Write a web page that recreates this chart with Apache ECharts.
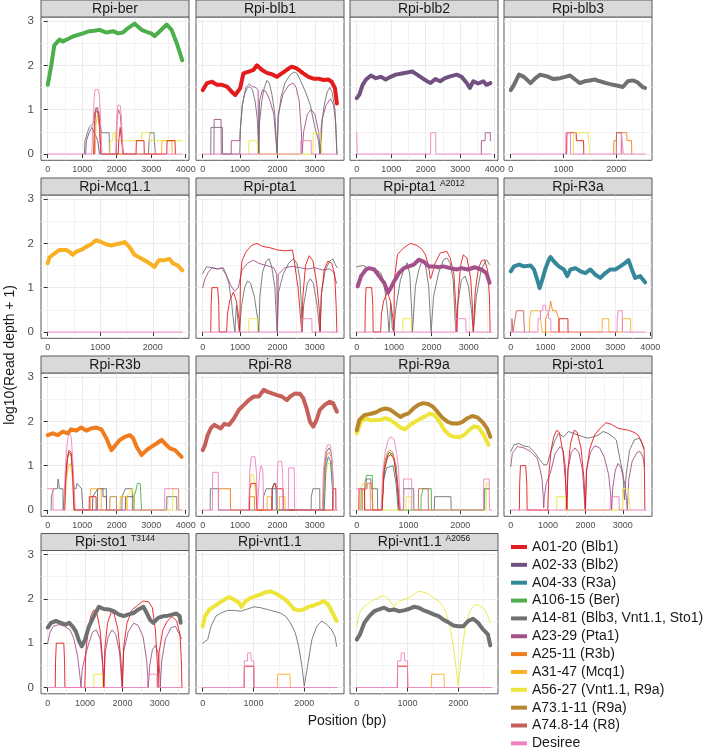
<!DOCTYPE html>
<html><head><meta charset="utf-8">
<script src="https://cdn.jsdelivr.net/npm/echarts@6/dist/echarts.min.js"></script>
<style>html,body{margin:0;padding:0;background:#fff}#c{width:709px;height:748px}</style>
</head><body><div id="c"></div>
<script>
// ---------------- DATA ----------------
const panelTitles = ['Rpi-ber','Rpi-blb1','Rpi-blb2','Rpi-blb3','Rpi-Mcq1.1','Rpi-pta1','Rpi-pta1','Rpi-R3a','Rpi-R3b','Rpi-R8','Rpi-R9a','Rpi-sto1','Rpi-sto1','Rpi-vnt1.1','Rpi-vnt1.1'];
const panelSup = ['','','','','','','A2012','','','','','','T3144','','A2056'];
const panelLength = [3900,3600,3900,2550,2560,3600,3600,3860,3900,3600,2600,3600,3600,2650,2650];
const xTicks4 = [0,1000,2000,3000,4000];
const xTicks3 = [0,1000,2000,3000];
const xTicks2 = [0,1000,2000];
const panelTicks = [xTicks4,xTicks3,xTicks4,xTicks2,xTicks2,xTicks3,xTicks3,xTicks4,xTicks4,xTicks3,xTicks2,xTicks3,xTicks3,xTicks2,xTicks2];
const yTicks = [0,1,2,3];
const accessions = ['A01-20 (Blb1)','A02-33 (Blb2)','A04-33 (R3a)','A106-15 (Ber)','A14-81 (Blb3, Vnt1.1, Sto1)','A23-29 (Pta1)','A25-11 (R3b)','A31-47 (Mcq1)','A56-27 (Vnt1.1, R9a)','A73.1-11 (R9a)','A74.8-14 (R8)','Desiree'];
const accColors = ['#E41A1C','#725181','#35879A','#4DAF4A','#6E7170','#A4508B','#F07C1E','#F9B022','#EDE53A','#B8862E','#C5615A','#F081BF'];

// Rpi-ber
const ber_A106 = [[0,1.56],[100,1.98],[190,2.45],[340,2.58],[440,2.54],[600,2.6],[730,2.65],[1020,2.72],[1210,2.77],[1350,2.78],[1500,2.8],[1700,2.74],[1890,2.77],[2040,2.72],[2180,2.74],[2330,2.84],[2520,2.94],[2720,2.8],[2910,2.74],[3000,2.72],[3100,2.66],[3250,2.77],[3450,2.92],[3590,2.8],[3740,2.5],[3900,2.11]];
const ber_Des = [[0,0],[1280,0],[1300,0.48],[1330,1.0],[1350,1.3],[1370,1.45],[1470,1.45],[1500,1.3],[1520,1.0],[1550,0.48],[1570,0],[1970,0],[1990,0.6],[2010,0.9],[2030,1.1],[2100,1.1],[2130,0.9],[2160,0.48],[2180,0],[3900,0]];
const ber_A14 = [[1060,0],[1080,0.3],[1150,0.48],[1200,0.6],[1330,0.7],[1380,1.0],[1450,1.05],[1500,0.7],[1560,0.48],[1780,0.48],[1790,0],[2920,0],[2940,0.3],[2960,0.48],[3080,0.48],[3090,0.3],[3120,0]];
const ber_A01 = [[1330,0],[1350,0.6],[1380,0.95],[1480,0.95],[1510,0.6],[1540,0],[2040,0],[2060,0.3],[2100,0.6],[2140,0.3],[2200,0],[2560,0],[2570,0.3],[2790,0.3],[2800,0],[3450,0],[3460,0.3],[3690,0.3],[3700,0]];
const ber_A56 = [[1800,0],[1810,0.3],[1880,0.3],[1890,0.48],[1950,0.48],[1960,0.3],[2720,0.3],[2730,0.48],[2950,0.48],[2960,0.3],[3900,0.3]];
const ber_A02 = [[1100,0],[1120,0.3],[1200,0.48],[1280,0.6],[1350,0.48],[1450,0.3],[1500,0]];
const ber_A31 = [[1380,0],[1400,0.7],[1450,0.9],[1500,0.6],[1550,0],[3300,0],[3310,0.3],[3600,0.3],[3610,0]];
const ber_A74 = [[1350,0],[1370,0.78],[1400,1.05],[1460,0.9],[1500,0.6],[1540,0],[1990,0],[2010,0.78],[2050,1.0],[2100,0.9],[2140,0.48],[2170,0]];

// Rpi-blb1
const blb1_A01 = [[0,1.44],[115,1.6],[250,1.63],[380,1.56],[515,1.56],[650,1.52],[780,1.4],[870,1.33],[1000,1.48],[1090,1.82],[1230,1.86],[1360,1.9],[1450,2.0],[1580,1.9],[1715,1.83],[1850,1.8],[1980,1.74],[2115,1.82],[2250,1.9],[2380,1.97],[2515,1.93],[2690,1.82],[2830,1.74],[2960,1.7],[3100,1.7],[3230,1.67],[3360,1.68],[3450,1.63],[3540,1.48],[3590,1.14]];
const blb1_A14 = [[215,0],[220,0.6],[525,0.6],[530,0],[990,0],[1010,0.6],[1060,1.1],[1120,1.35],[1200,1.5],[1260,1.52],[1330,1.45],[1400,1.2],[1460,0.8],[1500,0],[1520,0.7],[1580,1.2],[1650,1.5],[1720,1.66],[1780,1.6],[1850,1.35],[1930,0.9],[1990,0],[2020,0.8],[2100,1.3],[2200,1.6],[2330,1.78],[2450,1.85],[2520,1.82],[2620,1.65],[2750,1.4],[2880,1.1],[3000,0.6],[3100,0.3],[3130,0],[3170,0.6],[3250,1.1],[3330,1.4],[3400,1.5],[3460,1.4],[3540,1.0],[3590,0]];
const blb1_A23 = [[300,0],[305,0.78],[490,0.78],[495,0],[760,0],[765,0.3],[990,0.3],[1000,0.5],[1060,1.1],[1150,1.5],[1250,1.58],[1330,1.52],[1420,1.5],[1480,1.45],[1500,0],[1520,1.2],[1600,1.45],[1700,1.4],[1800,1.2],[1900,0.9],[1990,0],[2020,0.9],[2150,1.35],[2300,1.55],[2420,1.6],[2500,1.5],[2580,1.2],[2640,0.5],[2660,0],[2700,0.5],[2800,0.9],[2900,1.0],[3000,0.9],[3100,0.5],[3150,0],[3200,0.8],[3300,1.1],[3420,1.25],[3500,1.1],[3560,0.7],[3590,0]];
const blb1_A56 = [[1230,0],[1235,0.3],[1460,0.3],[1465,0],[2950,0],[2955,0.48],[3150,0.48],[3155,0.3],[3200,0.3],[3205,0]];
const blb1_Des = [[0,0],[2620,0],[2625,0.3],[2900,0.3],[2905,0],[3600,0]];

// Rpi-blb2
const blb2_A02 = [[0,1.26],[77,1.34],[170,1.56],[270,1.68],[410,1.77],[555,1.71],[700,1.74],[840,1.68],[985,1.74],[1130,1.79],[1270,1.81],[1465,1.84],[1610,1.86],[1750,1.79],[1900,1.71],[2040,1.64],[2140,1.6],[2280,1.69],[2420,1.64],[2560,1.71],[2710,1.75],[2900,1.79],[3040,1.74],[3190,1.6],[3280,1.49],[3380,1.64],[3520,1.59],[3670,1.64],[3760,1.56],[3875,1.6]];
const blb2_Des = [[0,0.48],[10,0.48],[15,0],[2140,0],[2145,0.48],[2290,0.48],[2295,0],[3900,0]];
const blb2_A23 = [[3610,0],[3615,0.3],[3720,0.3],[3725,0.48],[3870,0.48],[3875,0.3]];

// Rpi-blb3
const blb3_A14 = [[0,1.44],[62,1.56],[156,1.79],[250,1.74],[375,1.6],[470,1.71],[560,1.79],[690,1.75],[810,1.69],[940,1.71],[1030,1.74],[1125,1.77],[1220,1.68],[1310,1.6],[1400,1.64],[1500,1.66],[1590,1.68],[1690,1.64],[1810,1.6],[1940,1.56],[2030,1.54],[2125,1.51],[2220,1.64],[2310,1.66],[2400,1.62],[2500,1.51],[2545,1.49]];
const blb3_Des = [[0,0],[1040,0],[1045,0.48],[1130,0.48],[1135,0],[2090,0],[2095,0.48],[2130,0.48],[2135,0],[2550,0]];
const blb3_A01 = [[1060,0],[1065,0.48],[1240,0.48],[1245,0.3],[1380,0.3],[1385,0]];
const blb3_A56 = [[1190,0],[1195,0.48],[1470,0.48],[1475,0.3],[1500,0.3],[1505,0]];
const blb3_A25 = [[1950,0],[1955,0.3],[2000,0.3],[2005,0.48],[2200,0.48],[2205,0.3],[2290,0.3],[2295,0]];
const blb3_A74 = [[2000,0],[2005,0.48],[2100,0.48],[2105,0]];

// Rpi-Mcq1.1
const mcq_A31 = [[0,1.55],[32,1.68],[127,1.77],[222,1.85],[350,1.85],[413,1.81],[476,1.74],[540,1.81],[635,1.85],[730,1.92],[825,1.98],[920,2.07],[1016,2.03],[1111,1.98],[1206,1.95],[1302,1.98],[1397,2.0],[1460,2.03],[1555,1.92],[1651,1.74],[1746,1.68],[1841,1.62],[1937,1.55],[2032,1.47],[2114,1.62],[2222,1.62],[2317,1.65],[2381,1.55],[2476,1.5],[2560,1.39]];
const mcq_Des = [[0,0],[2560,0]];

// Rpi-pta1
const pta1_A01 = [[215,0],[225,0.6],[245,1.0],[400,1.0],[430,0.6],[440,0],[640,0],[660,0.4],[720,0.7],[820,0.9],[900,0.7],[970,0.3],[990,0],[1010,1.2],[1050,1.6],[1150,1.8],[1300,1.95],[1450,2.0],[1600,1.93],[1800,1.9],[2000,1.85],[2200,1.83],[2400,1.85],[2450,1.6],[2550,1.0],[2620,0.3],[2650,0],[2680,0.8],[2750,1.5],[2850,1.72],[2950,1.6],[3050,1.1],[3120,0.5],[3140,0],[3170,0.8],[3250,1.4],[3350,1.6],[3450,1.55],[3530,1.3],[3570,0.6],[3590,0]];
const pta1_A14 = [[0,1.32],[100,1.47],[250,1.45],[400,1.42],[500,1.45],[620,1.3],[700,1.1],[780,0.6],[830,0.2],[860,0],[900,0.6],[950,0.2],[980,0],[1040,0.6],[1120,1.0],[1200,1.15],[1280,1.1],[1380,0.8],[1470,0.3],[1500,0],[1530,0.8],[1600,1.35],[1700,1.6],[1780,1.65],[1850,1.45],[1930,1.0],[1990,0],[2030,0.9],[2150,1.3],[2300,1.55],[2430,1.65],[2520,1.55],[2600,1.2],[2640,0.6],[2660,0],[2700,0.6],[2800,1.1],[2880,1.2],[2960,1.1],[3060,0.6],[3120,0.1],[3140,0],[3180,0.9],[3280,1.4],[3400,1.6],[3480,1.65],[3560,1.5],[3600,1.45]];
const pta1_A23 = [[0,1.0],[60,1.2],[150,1.35],[250,1.45],[400,1.42],[550,1.45],[650,1.25],[750,1.05],[850,0.92],[950,1.0],[1050,1.4],[1200,1.55],[1350,1.62],[1500,1.55],[1700,1.5],[1900,1.45],[1980,1.3],[2000,0],[2020,1.3],[2200,1.45],[2400,1.48],[2600,1.45],[2800,1.42],[3000,1.45],[3200,1.4],[3400,1.42],[3500,1.35],[3580,1.1]];
const pta1_A56 = [[1230,0],[1235,0.3],[1460,0.3],[1465,0]];
const pta1_Des = [[0,0],[2650,0],[2655,0.3],[2920,0.3],[2925,0],[3600,0]];

// Rpi-pta1 A2012
const pta1a_A23 = [[26,1.03],[115,1.26],[247,1.41],[335,1.44],[468,1.41],[600,1.26],[732,1.11],[838,0.89],[909,0.99],[1000,1.14],[1130,1.33],[1262,1.44],[1394,1.48],[1527,1.52],[1660,1.63],[1790,1.59],[1925,1.48],[2056,1.48],[2190,1.46],[2320,1.48],[2500,1.44],[2675,1.41],[2800,1.44],[2980,1.41],[3160,1.46],[3335,1.41],[3470,1.33],[3555,1.11]];
const pta1a_A01 = [[220,0],[230,0.6],[250,1.0],[400,1.0],[430,0.6],[440,0],[640,0],[660,0.4],[720,0.7],[820,0.9],[900,0.7],[970,0.3],[990,0],[1010,1.2],[1090,1.75],[1260,1.9],[1440,2.0],[1620,1.95],[1750,1.86],[1840,1.74],[1920,1.5],[1970,1.2],[2000,1.25],[2100,1.56],[2235,1.78],[2410,1.82],[2500,1.67],[2600,1.3],[2650,0.6],[2680,0],[2720,0.9],[2780,1.5],[2850,1.74],[2950,1.67],[3050,1.2],[3100,0.5],[3120,0],[3170,0.9],[3250,1.4],[3330,1.6],[3420,1.63],[3500,1.4],[3550,0.8],[3570,0]];
const pta1a_A14 = [[0,1.47],[150,1.5],[340,1.44],[520,1.41],[645,1.33],[730,1.1],[820,0.5],[865,0],[910,0.65],[950,0.1],[990,0],[1040,0.5],[1170,1.18],[1260,1.4],[1350,1.56],[1420,1.3],[1470,0.5],[1490,0],[1570,1.03],[1660,1.4],[1750,1.6],[1840,1.5],[1925,1.03],[1990,0],[2056,0.8],[2190,1.33],[2320,1.63],[2410,1.67],[2500,1.56],[2580,1.18],[2650,0],[2700,0.6],[2800,1.18],[2900,1.26],[2990,1.03],[3070,0.5],[3120,0],[3200,0.8],[3330,1.4],[3470,1.63],[3560,1.52]];
const pta1a_A56 = [[1230,0],[1235,0.3],[1460,0.3],[1465,0]];
const pta1a_Des = [[0,0],[2650,0],[2655,0.3],[2920,0.3],[2925,0],[3600,0]];

// Rpi-R3a
const r3a_A04 = [[0,1.37],[95,1.48],[240,1.52],[380,1.48],[570,1.5],[667,1.41],[760,1.18],[830,0.99],[905,1.18],[1000,1.44],[1095,1.63],[1140,1.69],[1240,1.59],[1380,1.48],[1524,1.41],[1620,1.26],[1714,1.41],[1857,1.44],[2000,1.37],[2143,1.33],[2285,1.41],[2430,1.29],[2570,1.22],[2715,1.33],[2857,1.41],[3000,1.41],[3143,1.48],[3285,1.56],[3380,1.62],[3476,1.41],[3570,1.22],[3715,1.26],[3857,1.12]];
const r3a_A74 = [[30,0],[35,0.3],[60,0.3],[65,0],[120,0],[125,0.3],[160,0.3],[165,0.48],[370,0.48],[375,0.3],[390,0.3],[395,0]];
const r3a_A31 = [[540,0],[545,0.3],[580,0.3],[585,0.48],[850,0.48],[855,0.3],[900,0.3],[905,0],[2620,0],[2625,0.3],[2810,0.3],[2815,0],[3200,0],[3205,0.3],[3440,0.3],[3445,0]];
const r3a_Des = [[0,0],[780,0],[785,0.3],[850,0.3],[855,0.48],[920,0.48],[925,0.6],[1000,0.6],[1005,0.48],[1080,0.48],[1085,0.3],[1150,0.3],[1155,0],[3050,0],[3055,0.3],[3080,0.3],[3085,0.48],[3200,0.48],[3205,0],[3860,0]];
const r3a_A25 = [[1000,0],[1005,0.3],[1100,0.48],[1130,0.6],[1140,0.7],[1170,0.6],[1200,0.48],[1300,0.48],[1380,0.3],[1400,0]];
const r3a_A01 = [[1380,0],[1385,0.3],[1640,0.3],[1645,0]];

// Rpi-R3b
const r3b_A25 = [[0,1.69],[146,1.73],[290,1.69],[437,1.77],[583,1.73],[680,1.82],[825,1.79],[970,1.86],[1117,1.79],[1262,1.84],[1408,1.86],[1553,1.82],[1700,1.62],[1845,1.35],[1942,1.44],[2088,1.58],[2233,1.65],[2380,1.69],[2476,1.62],[2573,1.43],[2718,1.24],[2864,1.35],[3010,1.43],[3155,1.5],[3300,1.58],[3398,1.5],[3544,1.39],[3690,1.35],[3880,1.2]];
const r3b_Des = [[0,0.48],[150,0.48],[155,0],[480,0],[500,0.8],[540,1.3],[580,1.6],[620,1.72],[680,1.65],[720,1.2],[760,0.6],[800,0],[3390,0],[3395,0.48],[3790,0.48],[3795,0],[3900,0]];
const r3b_A14 = [[100,0],[105,0.3],[160,0.3],[165,0.48],[280,0.48],[300,0.7],[340,0.48],[440,0.48],[445,0],[480,0],[520,0.7],[570,1.15],[620,1.3],[680,1.25],[720,0.9],[760,0.48],[820,0.48],[850,0.6],[980,0.48],[1020,0],[1440,0],[1445,0.48],[1700,0.48],[1705,0],[2150,0],[2155,0.3],[2250,0.48],[2450,0.48],[2455,0],[3450,0],[3455,0.3],[3740,0.3],[3745,0]];
const r3b_A01 = [[480,0],[520,0.7],[570,1.2],[620,1.35],[680,1.3],[720,0.9],[760,0],[1200,0],[1205,0.3],[1400,0.3],[1405,0]];
const r3b_A31 = [[500,0],[540,0.7],[600,1.0],[660,1.05],[720,0.7],[760,0],[1240,0],[1245,0.48],[1550,0.48],[1555,0],[2100,0],[2105,0.3],[2300,0.3],[2305,0]];
const r3b_A02 = [[1300,0],[1305,0.3],[1450,0.48],[1600,0.48],[1605,0.3],[1700,0.3],[1705,0],[2250,0],[2255,0.3],[2500,0.3],[2505,0]];
const r3b_A106 = [[2500,0],[2505,0.3],[2570,0.48],[2600,0.6],[2680,0.6],[2700,0.3],[2720,0]];
const r3b_A56 = [[2280,0],[2285,0.3],[2450,0.48],[2500,0.3],[2505,0],[3620,0],[3625,0.48],[3800,0.48],[3805,0]];
const r3b_A73 = [[490,0],[530,0.8],[580,1.2],[630,1.3],[690,1.2],[740,0.6],[780,0],[1800,0],[1805,0.3],[1990,0.3],[1995,0]];

// Rpi-R8
const r8_A74 = [[0,1.35],[62,1.47],[132,1.69],[220,1.85],[310,1.92],[397,1.88],[485,1.84],[574,1.94],[706,1.92],[838,2.07],[970,2.26],[1103,2.37],[1235,2.48],[1368,2.56],[1500,2.56],[1633,2.71],[1721,2.67],[1853,2.63],[1986,2.59],[2118,2.56],[2250,2.48],[2340,2.56],[2470,2.63],[2604,2.62],[2690,2.52],[2780,2.29],[2870,1.99],[2957,1.88],[3045,2.03],[3133,2.26],[3265,2.37],[3398,2.44],[3486,2.41],[3590,2.22]];
const r8_Des = [[0,0],[260,0],[265,0.85],[415,0.85],[420,0],[1230,0],[1260,0.9],[1300,1.2],[1400,1.2],[1440,0.8],[1460,0],[1500,0],[1520,0.8],[1560,1.0],[1610,0.9],[1630,0],[1990,0],[2000,0.9],[2020,1.1],[2110,1.1],[2140,0.8],[2150,0],[2290,0],[2300,0.95],[2450,0.95],[2460,0],[3200,0],[3230,0.9],[3290,1.35],[3350,1.48],[3420,1.45],[3470,1.0],[3500,0],[3600,0]];
const r8_A14 = [[200,0],[205,0.48],[420,0.48],[425,0],[1620,0],[1625,0.3],[1700,0.48],[1990,0.48],[1995,0],[2900,0],[2905,0.3],[2950,0.48],[3130,0.48],[3135,0],[3220,0],[3250,0.9],[3310,1.3],[3380,1.4],[3440,1.3],[3480,0.8],[3500,0]];
const r8_A25 = [[420,0],[425,0.48],[740,0.48],[745,0],[1250,0],[1255,0.3],[1380,0.3],[1385,0],[3230,0],[3260,0.8],[3320,1.25],[3380,1.3],[3440,1.2],[3480,0.7],[3500,0]];
const r8_A01 = [[1250,0],[1255,0.48],[1300,0.6],[1420,0.6],[1430,0.48],[1450,0],[1850,0],[1855,0.48],[1920,0.6],[1980,0.48],[2150,0.48],[2155,0],[3480,0],[3485,0.48],[3560,0.48],[3565,0]];
const r8_A56 = [[1260,0],[1265,0.48],[1300,0.8],[1360,0.8],[1400,0.48],[1460,0],[3250,0],[3290,0.8],[3350,1.05],[3420,1.05],[3470,0.6],[3490,0]];
const r8_A04 = [[1860,0],[1865,0.48],[1900,0.6],[1960,0.6],[1970,0],[3250,0],[3300,1.0],[3360,1.2],[3420,1.1],[3470,0.5],[3490,0]];
const r8_A31 = [[1720,0],[1725,0.3],[1840,0.3],[1845,0],[2050,0],[2055,0.3],[2200,0.3],[2205,0]];

// Rpi-R9a
const r9a_A73 = [[0,1.8],[50,2.03],[145,2.14],[272,2.17],[367,2.2],[462,2.26],[557,2.29],[652,2.26],[747,2.18],[842,2.1],[905,2.14],[1000,2.18],[1095,2.29],[1190,2.37],[1285,2.41],[1380,2.39],[1475,2.33],[1570,2.2],[1665,2.07],[1760,1.99],[1855,1.95],[1950,1.95],[2044,1.99],[2140,2.07],[2234,2.12],[2330,2.09],[2424,1.99],[2520,1.84],[2582,1.65]];
const r9a_A56 = [[0,1.73],[82,1.99],[177,2.07],[272,2.02],[367,2.03],[462,2.03],[557,2.07],[652,2.03],[747,1.95],[842,1.86],[937,1.82],[1032,1.92],[1127,1.99],[1222,2.05],[1316,2.11],[1411,2.17],[1506,2.14],[1600,1.99],[1696,1.8],[1790,1.69],[1886,1.65],[1980,1.64],[2075,1.69],[2170,1.8],[2265,1.89],[2360,1.86],[2455,1.69],[2550,1.47]];
const r9a_Des = [[0,0.48],[170,0.48],[175,0.6],[260,0.6],[265,0],[470,0],[500,0.8],[550,1.3],[600,1.55],[650,1.65],[720,1.6],[770,1.3],[810,0.9],[840,0],[900,0],[905,0.7],[1060,0.7],[1065,0],[2450,0],[2455,0.7],[2560,0.7],[2565,0],[2600,0]];
const r9a_A14 = [[80,0],[85,0.48],[180,0.48],[185,0.7],[270,0.7],[280,0.48],[400,0.48],[405,0],[480,0],[520,0.7],[570,1.15],[630,1.3],[700,1.25],[760,1.0],[800,0.5],[840,0],[905,0],[910,0.48],[1100,0.48],[1105,0],[1500,0],[1505,0.3],[1820,0.3],[1825,0],[2460,0],[2465,0.48],[2560,0.48]];
const r9a_A106 = [[150,0],[155,0.6],[190,0.78],[300,0.78],[310,0],[490,0],[540,1.1],[620,1.3],[700,1.25],[760,0.9],[820,0],[1240,0],[1245,0.3],[1280,0.48],[1440,0.48],[1445,0],[2470,0],[2475,0.48],[2560,0.48]];
const r9a_A04 = [[480,0],[520,0.7],[580,0.95],[700,1.0],[760,0.6],[800,0]];
const r9a_A01 = [[40,0],[45,0.48],[150,0.48],[155,0],[490,0],[530,0.9],[600,1.2],[660,1.25],[720,1.15],[780,0.6],[820,0]];
const r9a_A25 = [[110,0],[115,0.48],[200,0.48],[205,0.6],[300,0.6],[305,0],[480,0],[520,0.9],[590,1.3],[640,1.35],[700,1.3],[770,0.8],[820,0]];
const r9a_A56s = [[60,0],[65,0.48],[120,0.6],[250,0.6],[255,0.48],[330,0],[950,0],[955,0.3],[1050,0.3],[1055,0],[2500,0],[2505,0.6],[2560,0.6]];
const r9a_A74 = [[1190,0],[1195,0.48],[1380,0.48],[1385,0]];

// Rpi-sto1
const sto1_A14 = [[0,1.32],[88,1.47],[220,1.5],[353,1.44],[485,1.43],[618,1.32],[750,1.17],[883,1.02],[970,1.02],[1060,1.28],[1190,1.58],[1280,1.73],[1410,1.65],[1545,1.77],[1677,1.73],[1810,1.69],[1940,1.65],[2075,1.62],[2205,1.65],[2340,1.69],[2470,1.77],[2600,1.73],[2735,1.65],[2825,1.58],[2910,1.2],[3000,0.83],[3045,0.23],[3090,0.8],[3180,1.35],[3310,1.58],[3440,1.62],[3530,1.47],[3575,1.39]];
const sto1_A01 = [[230,0],[240,0.6],[260,1.0],[400,1.0],[430,0.6],[440,0],[990,0],[1020,0.8],[1080,1.35],[1150,1.65],[1230,1.8],[1300,1.75],[1400,1.3],[1470,0.6],[1500,0],[1530,0.9],[1600,1.5],[1700,1.8],[1780,1.75],[1880,1.4],[1960,0.7],[2000,0],[2030,0.9],[2120,1.4],[2250,1.7],[2400,1.85],[2550,1.97],[2700,1.93],[2850,1.85],[3000,1.82],[3150,1.8],[3300,1.75],[3400,1.7],[3500,1.55],[3570,1.35],[3590,0]];
const sto1_A23 = [[0,0.98],[44,1.28],[177,1.43],[353,1.4],[530,1.32],[706,1.17],[790,0.9],[840,0.68],[870,0.3],[883,0.05],[900,0.3],[950,0.6],[1000,0.6],[1060,0.83],[1190,1.28],[1325,1.43],[1400,1.35],[1460,1.0],[1500,0],[1530,0.9],[1620,1.3],[1720,1.4],[1820,1.3],[1920,0.9],[1990,0],[2030,0.9],[2130,1.3],[2250,1.45],[2380,1.4],[2500,1.2],[2620,0.8],[2680,0.3],[2700,0],[2730,0.5],[2800,0.9],[2870,1.05],[2950,0.95],[3050,0.6],[3100,0.2],[3120,0],[3160,0.7],[3250,1.1],[3380,1.3],[3460,1.32],[3540,1.2],[3580,0.95]];
const sto1_A56 = [[1230,0],[1235,0.3],[1460,0.3],[1465,0],[2990,0],[2995,0.48],[3150,0.48],[3155,0.3],[3200,0.3],[3205,0]];
const sto1_Des = [[0,0],[2660,0],[2665,0.3],[2900,0.3],[2905,0],[3600,0]];

// Rpi-sto1 T3144
const sto1t_A14 = [[0,1.35],[88,1.46],[220,1.5],[353,1.46],[485,1.42],[574,1.46],[662,1.38],[750,1.27],[838,1.05],[910,0.93],[1000,1.08],[1103,1.38],[1235,1.61],[1368,1.82],[1500,1.77],[1633,1.76],[1765,1.72],[1898,1.65],[2030,1.61],[2162,1.65],[2295,1.68],[2427,1.76],[2560,1.82],[2650,1.68],[2736,1.53],[2825,1.46],[2956,1.57],[3090,1.61],[3220,1.62],[3354,1.65],[3440,1.67],[3530,1.61],[3557,1.46]];
const sto1t_A01 = [[200,0],[210,0.6],[230,1.0],[430,1.0],[450,0.6],[460,0],[990,0],[1020,0.8],[1080,1.3],[1150,1.6],[1230,1.75],[1320,1.65],[1400,1.3],[1470,0.6],[1500,0],[1530,0.9],[1600,1.45],[1700,1.7],[1780,1.65],[1880,1.3],[1960,0.6],[2000,0],[2030,0.9],[2120,1.45],[2250,1.75],[2400,1.85],[2550,1.95],[2700,1.93],[2800,1.8],[2880,1.3],[2930,0.6],[2950,0],[2980,0.8],[3080,1.3],[3200,1.5],[3330,1.6],[3450,1.5],[3540,1.2],[3580,0.5],[3590,0]];
const sto1t_A23 = [[0,1.0],[60,1.25],[150,1.38],[300,1.42],[450,1.38],[600,1.3],[700,1.1],[800,0.7],[870,0.2],[890,0],[920,0.4],[1000,0.7],[1100,1.0],[1200,1.25],[1300,1.3],[1400,1.1],[1470,0.5],[1500,0],[1540,0.8],[1620,1.15],[1720,1.3],[1820,1.2],[1920,0.8],[1990,0],[2030,0.8],[2150,1.25],[2300,1.45],[2420,1.4],[2550,1.15],[2650,0.6],[2690,0],[2730,0.5],[2800,0.85],[2880,0.95],[2950,0.8],[3000,0.3],[3010,0],[3050,0.6],[3150,1.1],[3300,1.35],[3420,1.38],[3520,1.2],[3580,1.1]];
const sto1t_A56 = [[1230,0],[1235,0.3],[1460,0.3],[1465,0]];
const sto1t_Des = [[0,0],[2670,0],[2675,0.3],[2920,0.3],[2925,0],[3600,0]];

// Rpi-vnt1.1
const vnt_A56 = [[0,1.38],[46,1.61],[130,1.76],[228,1.83],[326,1.91],[423,1.98],[521,2.04],[619,1.98],[717,1.91],[762,1.82],[847,1.95],[945,2.02],[1042,2.06],[1140,2.1],[1238,2.15],[1335,2.17],[1433,2.12],[1531,2.06],[1629,1.98],[1726,1.87],[1792,1.77],[1889,1.74],[1987,1.76],[2085,1.82],[2182,1.85],[2280,1.89],[2378,1.95],[2475,1.87],[2540,1.72],[2638,1.5]];
const vnt_A14 = [[0,1.0],[98,1.08],[163,1.38],[260,1.61],[358,1.68],[489,1.74],[619,1.74],[750,1.72],[880,1.77],[1010,1.82],[1140,1.8],[1270,1.76],[1400,1.72],[1531,1.68],[1629,1.61],[1726,1.46],[1824,1.23],[1889,0.93],[1954,0.48],[2000,0.03],[2052,0.4],[2150,1.08],[2247,1.38],[2345,1.5],[2443,1.42],[2540,1.3],[2606,1.15],[2638,0.93]];
const vnt_Des = [[0,0],[815,0],[820,0.6],[880,0.6],[885,0.78],[950,0.78],[955,0.6],[1005,0.6],[1010,0],[2650,0]];
const vnt_A01 = [[815,0],[820,0.48],[1005,0.48],[1010,0]];
const vnt_A31 = [[1470,0],[1475,0.3],[1720,0.3],[1725,0]];

// Rpi-vnt1.1 A2056
const vnta_A14 = [[0,1.08],[65,1.2],[150,1.46],[247,1.61],[344,1.72],[440,1.76],[540,1.8],[636,1.74],[733,1.76],[830,1.72],[928,1.74],[1026,1.77],[1124,1.82],[1220,1.8],[1318,1.74],[1416,1.7],[1513,1.65],[1610,1.61],[1708,1.53],[1805,1.47],[1902,1.4],[2000,1.38],[2097,1.38],[2195,1.5],[2292,1.55],[2390,1.46],[2487,1.31],[2584,1.2],[2630,0.95]];
const vnta_A56 = [[0,1.38],[52,1.68],[150,1.83],[247,1.91],[344,1.98],[440,2.04],[540,2.07],[636,1.98],[733,1.83],[830,1.95],[928,1.98],[1026,2.02],[1124,2.1],[1220,2.17],[1318,2.15],[1416,2.1],[1513,2.02],[1610,1.95],[1708,1.82],[1773,1.65],[1838,1.38],[1902,0.93],[1954,0.48],[2000,0.03],[2045,0.55],[2130,1.31],[2227,1.72],[2325,1.87],[2422,1.85],[2520,1.76],[2584,1.61],[2630,1.46]];
const vnta_Des = [[0,0],[800,0],[805,0.6],[870,0.6],[875,0.78],[940,0.78],[945,0.6],[1000,0.6],[1005,0],[2650,0]];
const vnta_A01 = [[800,0],[805,0.48],[1000,0.48],[1005,0]];
const vnta_A31 = [[1470,0],[1475,0.3],[1720,0.3],[1725,0]];

// [accession index, data, thick]
const panelLines = [
 [[1,ber_A02,0],[4,ber_A14,0],[7,ber_A31,0],[8,ber_A56,0],[0,ber_A01,0],[10,ber_A74,0],[11,ber_Des,0],[3,ber_A106,1]],
 [[5,blb1_A23,0],[4,blb1_A14,0],[8,blb1_A56,0],[11,blb1_Des,0],[0,blb1_A01,1]],
 [[5,blb2_A23,0],[11,blb2_Des,0],[1,blb2_A02,1]],
 [[0,blb3_A01,0],[8,blb3_A56,0],[6,blb3_A25,0],[10,blb3_A74,0],[11,blb3_Des,0],[4,blb3_A14,1]],
 [[11,mcq_Des,0],[7,mcq_A31,1]],
 [[4,pta1_A14,0],[5,pta1_A23,0],[0,pta1_A01,0],[8,pta1_A56,0],[11,pta1_Des,0]],
 [[4,pta1a_A14,0],[0,pta1a_A01,0],[8,pta1a_A56,0],[11,pta1a_Des,0],[5,pta1a_A23,1]],
 [[10,r3a_A74,0],[7,r3a_A31,0],[6,r3a_A25,0],[0,r3a_A01,0],[11,r3a_Des,0],[2,r3a_A04,1]],
 [[4,r3b_A14,0],[1,r3b_A02,0],[7,r3b_A31,0],[9,r3b_A73,0],[0,r3b_A01,0],[3,r3b_A106,0],[8,r3b_A56,0],[11,r3b_Des,0],[6,r3b_A25,1]],
 [[4,r8_A14,0],[6,r8_A25,0],[7,r8_A31,0],[8,r8_A56,0],[2,r8_A04,0],[0,r8_A01,0],[11,r8_Des,0],[10,r8_A74,1]],
 [[4,r9a_A14,0],[3,r9a_A106,0],[2,r9a_A04,0],[8,r9a_A56s,0],[6,r9a_A25,0],[0,r9a_A01,0],[10,r9a_A74,0],[11,r9a_Des,0],[8,r9a_A56,1],[9,r9a_A73,1]],
 [[4,sto1_A14,0],[5,sto1_A23,0],[0,sto1_A01,0],[8,sto1_A56,0],[11,sto1_Des,0]],
 [[5,sto1t_A23,0],[0,sto1t_A01,0],[8,sto1t_A56,0],[11,sto1t_Des,0],[4,sto1t_A14,1]],
 [[4,vnt_A14,0],[0,vnt_A01,0],[7,vnt_A31,0],[11,vnt_Des,0],[8,vnt_A56,1]],
 [[8,vnta_A56,0],[0,vnta_A01,0],[7,vnta_A31,0],[11,vnta_Des,0],[4,vnta_A14,1]]
];

// ---------------- LAYOUT ----------------
const FONT = '"Liberation Sans", Arial, Helvetica, sans-serif';
const colLeft = [41, 196, 350, 504];
const plotTop = [17, 195, 373, 550.5];
const plotW = 148, plotH = 143.3, stripH = 17;

const chart = echarts.init(document.getElementById('c'), null, {renderer:'canvas', width:709, height:748});
const grids = [], xAxes = [], yAxes = [], series = [], graphics = [];

panelTitles.forEach((title, i) => {
  const r = Math.floor(i / 4), c = i % 4;
  const L = panelLength[i];
  grids.push({left: colLeft[c], top: plotTop[r], width: plotW, height: plotH, show: true,
    borderColor: '#5a5a5a', borderWidth: 1, backgroundColor: '#fff'});
  xAxes.push({gridIndex: i, type: 'value', min: -0.05 * L, max: 1.05 * L, splitNumber: L > 3000 ? 4 : 3,
    axisLine: {show: false},
    axisTick: {show: true, length: 4, lineStyle: {color: '#333'}, customValues: panelTicks[i]},
    axisLabel: {fontSize: 9, color: '#4d4d4d', margin: 5, fontFamily: FONT, customValues: panelTicks[i],
      formatter: v => String(v)},
    splitLine: {show: true, lineStyle: {color: '#EBEBEB', width: 1}},
    minorTick: {show: false, splitNumber: 2},
    minorSplitLine: {show: true, lineStyle: {color: '#F3F3F3', width: 1}}});
  yAxes.push({gridIndex: i, type: 'value', min: -0.142, max: 3.09, splitNumber: 3,
    axisLine: {show: false},
    axisTick: {show: c === 0, length: 4, lineStyle: {color: '#333'}, customValues: yTicks},
    axisLabel: {show: c === 0, fontSize: 11.5, color: '#4d4d4d', margin: 7, fontFamily: FONT, customValues: yTicks,
      formatter: v => String(v)},
    splitLine: {show: true, lineStyle: {color: '#EBEBEB', width: 1}},
    minorTick: {show: false, splitNumber: 2},
    minorSplitLine: {show: true, lineStyle: {color: '#F3F3F3', width: 1}}});
  graphics.push({type: 'rect', shape: {x: colLeft[c], y: plotTop[r] - stripH, width: plotW, height: stripH},
    style: {fill: '#D9D9D9', stroke: '#5a5a5a', lineWidth: 1}, z: 10, silent: true});
  const txt = panelSup[i] ? '{t|' + title + '} {s|' + panelSup[i] + '}' : '{t|' + title + '}';
  graphics.push({type: 'text', x: colLeft[c] + plotW / 2, y: plotTop[r] - stripH / 2 + 0.5, z: 11, silent: true,
    style: {text: txt, textAlign: 'center', textVerticalAlign: 'middle', fill: '#1a1a1a', fontSize: 14, fontFamily: FONT,
      rich: {t: {fontSize: 14, fontFamily: FONT, fill: '#1a1a1a', lineHeight: 16},
             s: {fontSize: 8.5, fontFamily: FONT, fill: '#1a1a1a', verticalAlign: 'top', lineHeight: 10}}}});
  panelLines[i].forEach(([a, d, thick]) => {
    series.push({type: 'line', name: accessions[a], xAxisIndex: i, yAxisIndex: i, data: d,
      showSymbol: false, symbol: 'none', color: accColors[a], silent: true, animation: false,
      lineStyle: {width: thick ? 4 : 0.9, color: accColors[a], cap: 'round', join: 'round'},
      z: thick ? 3 : 2, emphasis: {disabled: true}});
  });
});

graphics.push({type: 'text', x: 10, y: 355, rotation: Math.PI / 2, silent: true,
  style: {text: 'log10(Read depth + 1)', textAlign: 'center', textVerticalAlign: 'middle', fill: '#1a1a1a', fontSize: 14, fontFamily: FONT}});
graphics.push({type: 'text', x: 347, y: 721, silent: true,
  style: {text: 'Position (bp)', textAlign: 'center', textVerticalAlign: 'middle', fill: '#1a1a1a', fontSize: 14, fontFamily: FONT}});

chart.setOption({
  animation: false,
  textStyle: {fontFamily: FONT},
  grid: grids, xAxis: xAxes, yAxis: yAxes, series: series,
  graphic: {elements: graphics},
  legend: {data: accessions, orient: 'vertical', left: 511, top: 539, width: 200, height: 260, padding: 0,
    itemWidth: 16, itemHeight: 4, itemGap: 1.85, icon: 'rect', selectedMode: false,
    textStyle: {fontSize: 14, color: '#1a1a1a', fontFamily: FONT, lineHeight: 16}}
});
</script></body></html>
